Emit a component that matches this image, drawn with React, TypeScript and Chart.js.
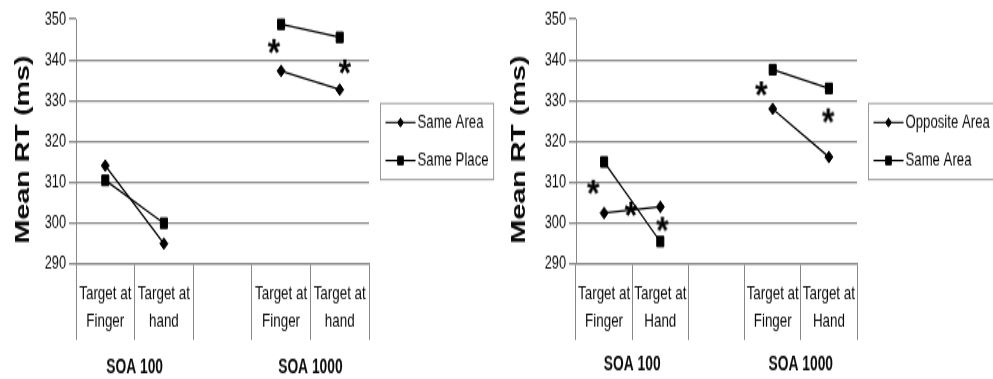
import React, { useEffect, useRef } from 'react';
import { Chart, registerables } from 'chart.js';
import { drawPoint } from 'chart.js/helpers';

Chart.register(...registerables);

// ---------- data ----------
const leftCategories = [['Target at', 'Finger'], ['Target at', 'hand'], '', ['Target at', 'Finger'], ['Target at', 'hand']];
const rightCategories = [['Target at', 'Finger'], ['Target at', 'Hand'], '', ['Target at', 'Finger'], ['Target at', 'Hand']];
const groupLabels = ['SOA 100', 'SOA 1000'];
const groupCenters = [0.5, 3.5];
const yMin = 290;
const yMax = 350;
const yStep = 10;

const leftSeriesNames = ['Same Area', 'Same Place'];
const leftSameArea = [314.1, 295, null, 337.3, 332.7];
const leftSamePlace = [310.5, 300, null, 348.7, 345.5];
const leftStarX = [2.88, 4.09];
const leftStarY = [343, 338];

const rightSeriesNames = ['Opposite Area', 'Same Area'];
const rightOppositeArea = [302.5, 304, null, 328, 316.2];
const rightSameArea = [315, 295.5, null, 337.6, 333];
const rightStarX = [-0.19, 0.48, 1.04, 2.8, 3.99];
const rightStarY = [308.5, 303.1, 299.4, 332.6, 326];

// ---------- layout / style ----------
const SCREEN_H = 379;
const CANVAS_H = 261;
const S = SCREEN_H / CANVAS_H; // the picture is stretched vertically
const GRAY = '#888888';
const INK = '#0a0a0a';
const SANS = '"Liberation Sans", Arial, sans-serif';

function makeAsterisk(): HTMLCanvasElement {
  const c = document.createElement('canvas');
  c.width = 18;
  c.height = 16;
  const g = c.getContext('2d')!;
  g.font = `bold 30px ${SANS}`;
  g.fillStyle = '#000';
  g.textBaseline = 'alphabetic';
  const m = g.measureText('*');
  const w = m.actualBoundingBoxLeft + m.actualBoundingBoxRight;
  const h = m.actualBoundingBoxAscent + m.actualBoundingBoxDescent;
  const targetW = 13;
  const targetH = 15 / S;
  g.translate(9, 8);
  g.scale(targetW / w, targetH / h);
  g.fillText('*', -w / 2 + m.actualBoundingBoxLeft, -h / 2 + m.actualBoundingBoxAscent);
  return c;
}

const boxLegend = {
  id: 'boxLegend',
  afterDraw(chart: any, _args: any, opts: any) {
    const { ctx, chartArea } = chart;
    const items = chart.data.datasets.filter((d: any) => d.label);
    ctx.save();
    ctx.font = opts.font;
    const textW = Math.max(...items.map((d: any) => ctx.measureText(d.label).width));
    const padX = 5;
    const lineLen = 30;
    const gap = 2;
    const rowH = opts.rowH;
    const w = padX + lineLen + gap + textW + padX;
    const h = rowH * items.length;
    const left = Math.round(chartArea.right + opts.gap) + 0.5;
    const top = (chartArea.top + chartArea.bottom) / 2 - h / 2;
    ctx.strokeStyle = '#999';
    ctx.lineWidth = 1;
    ctx.strokeRect(left, top, w, h);
    items.forEach((d: any, i: number) => {
      const cy = top + rowH * (i + 0.5);
      const x0 = left + padX;
      ctx.strokeStyle = '#000';
      ctx.lineWidth = 1.1;
      ctx.beginPath();
      ctx.moveTo(x0, cy);
      ctx.lineTo(x0 + lineLen, cy);
      ctx.stroke();
      ctx.fillStyle = '#000';
      ctx.lineWidth = 1;
      drawPoint(ctx, { pointStyle: d.pointStyle, radius: d.pointRadius - 1, rotation: 0, borderWidth: 1 } as any, x0 + lineLen / 2, cy);
      ctx.fillStyle = INK;
      ctx.textAlign = 'left';
      ctx.textBaseline = 'middle';
      ctx.fillText(d.label, x0 + lineLen + gap, cy);
    });
    ctx.restore();
  },
};

const groupAxisLabels = {
  id: 'groupAxisLabels',
  afterDraw(chart: any, _args: any, opts: any) {
    const { ctx } = chart;
    const xs = chart.scales.x;
    ctx.save();
    ctx.font = opts.font;
    ctx.fillStyle = INK;
    ctx.textAlign = 'center';
    ctx.textBaseline = 'middle';
    groupLabels.forEach((t, i) => {
      ctx.fillText(t, xs.getPixelForValue(groupCenters[i]), opts.y);
    });
    ctx.restore();
  },
};

type PanelCfg = {
  width: number;
  yAxisWidth: number;
  padRight: number;
  categories: any[];
  names: string[];
  diamonds: (number | null)[];
  squares: (number | null)[];
  starX: number[];
  starY: number[];
  groupY: number;
};

function lineData(vals: (number | null)[]) {
  return vals.map((v, i) => ({ x: i, y: v }));
}

function buildConfig(cfg: PanelCfg, star: HTMLCanvasElement): any {
  const plotTop = 19 / S;
  const plotBottom = 264 / S;
  const tickLen = 76 / S;
  const labelLH = 28 / S;
  const catFont = 13.4;
  const firstLine = 294 / S - plotBottom;
  return {
    type: 'line',
    data: {
      datasets: [
        {
          label: cfg.names[0],
          data: lineData(cfg.diamonds),
          xAxisID: 'x',
          borderColor: '#000',
          backgroundColor: '#000',
          borderWidth: 1.25,
          pointStyle: 'rectRot',
          pointRadius: 4,
          pointBorderWidth: 1,
          spanGaps: false,
          clip: false,
        },
        {
          label: cfg.names[1],
          data: lineData(cfg.squares),
          xAxisID: 'x',
          borderColor: '#000',
          backgroundColor: '#000',
          borderWidth: 1.25,
          pointStyle: 'rect',
          pointRadius: 5,
          pointBorderWidth: 1,
          spanGaps: false,
          clip: false,
        },
        {
          data: cfg.starX.map((x, i) => ({ x, y: cfg.starY[i] })),
          xAxisID: 'x',
          showLine: false,
          pointStyle: star,
          pointRadius: 6,
          clip: false,
        },
      ],
    },
    options: {
      animation: false,
      responsive: false,
      devicePixelRatio: 1,
      events: [],
      layout: { padding: { top: plotTop, right: cfg.padRight, left: 0, bottom: 0 } },
      plugins: {
        legend: { display: false },
        tooltip: { enabled: false },
        boxLegend: { font: `13.2px ${SANS}`, gap: 11, rowH: 26.2 },
        groupAxisLabels: { font: `bold 13.8px ${SANS}`, y: cfg.groupY / S },
      },
      scales: {
        x: { type: 'linear', display: false, min: -0.5, max: 4.5 },
        xc: {
          type: 'category',
          axis: 'x',
          position: 'bottom',
          labels: cfg.categories,
          offset: true,
          grid: { display: true, drawOnChartArea: false, drawTicks: true, tickLength: tickLen, color: GRAY, lineWidth: 1, offset: true },
          border: { display: true, color: GRAY, width: 1.35 },
          ticks: {
            autoSkip: false,
            maxRotation: 0,
            minRotation: 0,
            padding: firstLine - labelLH / 2 - tickLen,
            color: INK,
            font: { family: SANS, size: catFont, lineHeight: labelLH / catFont },
          },
          afterFit: (scale: any) => {
            scale.height = CANVAS_H - plotBottom;
          },
        },
        y: {
          type: 'linear',
          min: yMin,
          max: yMax,
          ticks: { stepSize: yStep, color: INK, padding: 3, font: { family: SANS, size: 12.8 } },
          grid: {
            color: (c: any) => (c.tick && c.tick.value === yMax ? 'rgba(0,0,0,0)' : GRAY),
            tickColor: GRAY,
            lineWidth: 1.35,
            tickLength: 7,
          },
          border: { display: true, color: GRAY, width: 1 },
          title: {
            display: true,
            text: 'Mean RT (ms)  ',
            color: INK,
            font: { family: SANS, size: 19.8, weight: 'bold', lineHeight: 1.2 },
            padding: { top: 11.8, bottom: 0 },
          },
          afterFit: (scale: any) => {
            scale.width = cfg.yAxisWidth;
          },
        },
      },
    },
    plugins: [boxLegend, groupAxisLabels],
  };
}

const leftPanel: PanelCfg = {
  width: 496,
  yAxisWidth: 76,
  padRight: 127,
  categories: leftCategories,
  names: leftSeriesNames,
  diamonds: leftSameArea,
  squares: leftSamePlace,
  starX: leftStarX,
  starY: leftStarY,
  groupY: 368,
};

const rightPanel: PanelCfg = {
  width: 497,
  yAxisWidth: 80,
  padRight: 136,
  categories: rightCategories,
  names: rightSeriesNames,
  diamonds: rightOppositeArea,
  squares: rightSameArea,
  starX: rightStarX,
  starY: rightStarY,
  groupY: 365,
};

function Panel({ cfg }: { cfg: PanelCfg }) {
  const ref = useRef<HTMLCanvasElement | null>(null);
  useEffect(() => {
    if (!ref.current) return;
    const chart = new Chart(ref.current, buildConfig(cfg, makeAsterisk()));
    return () => chart.destroy();
  }, [cfg]);
  return (
    <canvas
      ref={ref}
      width={cfg.width}
      height={CANVAS_H}
      style={{ width: `${cfg.width}px`, height: `${SCREEN_H}px`, display: 'block' }}
    />
  );
}

export default function App() {
  return (
    <div style={{ position: 'fixed', left: 0, top: 0, width: 993, height: 379, display: 'flex', background: '#fff' }}>
      <Panel cfg={leftPanel} />
      <Panel cfg={rightPanel} />
    </div>
  );
}
